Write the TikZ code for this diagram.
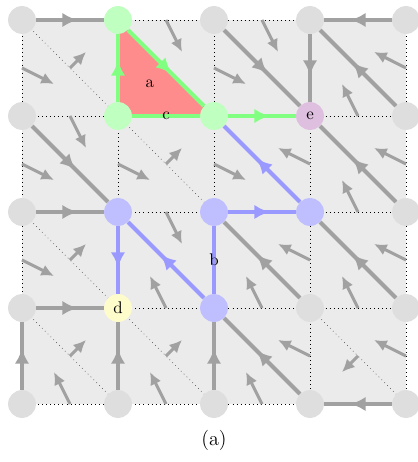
\documentclass[tikz,border=0pt]{standalone}
\usepackage{tikz}
\usepackage{xcolor}
\usetikzlibrary{arrows.meta,decorations.markings,backgrounds}
\definecolor{lgray}{gray}{0.63}
\definecolor{vgray}{gray}{0.87}
\definecolor{cellbg}{gray}{0.92}
\colorlet{vgreen}{green!25}
\colorlet{lgreen}{green!50}
\colorlet{vblue}{blue!25}
\colorlet{lblue}{blue!40}

\begin{document}
\begin{tikzpicture}[x=2cm,y=-2cm,
    vert/.style={circle,inner sep=0pt,minimum size=0.58cm,font=\normalsize},
    pair/.style={line width=2.4pt,postaction={decorate},
                 decoration={markings,mark=at position .5 with
                 {\arrow[xshift=4.5pt]{Latex[length=9pt,width=8.5pt]}}}},
    plain/.style={line width=2.4pt},
    flow/.style={line width=1.8pt,lgray,-{Latex[length=7.5pt,width=7pt]}},
    dots/.style={dotted,thin}]
    \useasboundingbox (-0.229,-0.208) rectangle (4.115,4.604);
    % vertices
    \foreach \i/\j/\c in {0/0/vgray,1/0/vgreen,2/0/vgray,3/0/vgray,4/0/vgray,
                          0/1/vgray,1/1/vgreen,2/1/vgreen,4/1/vgray,
                          0/2/vgray,1/2/vblue,2/2/vblue,3/2/vblue,4/2/vgray,
                          0/3/vgray,2/3/vblue,3/3/vgray,4/3/vgray,
                          0/4/vgray,1/4/vgray,2/4/vgray,3/4/vgray,4/4/vgray}
      \node[vert,fill=\c] (v-\i-\j) at (\i,\j) {};
    \node[vert,fill=yellow!20] (v-1-3) at (1,3) {d};
    \node[vert,fill=violet!25] (v-3-1) at (3,1) {e};
    \node[font=\large] (cap) at (2,4.375) {(a)};

    \begin{scope}[on background layer]
    \fill[cellbg] (v-0-0.center) rectangle (v-4-4.center);
    \fill[red!45] (v-1-0.center) -- (v-1-1.center) -- (v-2-1.center) -- cycle;
    \foreach \k in {0,...,4} {
      \draw[dots] (v-0-\k.center) -- (v-4-\k.center);
      \draw[dots] (v-\k-0.center) -- (v-\k-4.center);
    }
    \foreach \i in {0,...,3}
      \foreach \j in {0,...,3}
        \draw[dots,black!75] (\i,\j) -- ({\i+1},{\j+1});
    % vertex-edge pairs
    \foreach \a/\b in {0-0/1-0,4-0/3-0,3-0/3-1,2-0/3-1,4-1/3-0,0-1/1-2,
                       4-2/3-1,0-2/1-2,4-3/3-2,3-3/2-2,0-3/1-3,3-4/2-3,
                       0-4/0-3,1-4/1-3,2-4/2-3,4-4/3-4}
      \draw[pair,lgray] (v-\a) -- (v-\b);
    \foreach \a/\b in {1-1/1-0,1-0/2-1,2-1/3-1}
      \draw[pair,lgreen] (v-\a) -- (v-\b);
    \draw[plain,lgreen] (v-1-1) -- (v-2-1);
    \foreach \a/\b in {2-2/3-2,3-2/2-1,1-2/1-3,2-3/1-2}
      \draw[pair,lblue] (v-\a) -- (v-\b);
    \draw[plain,lblue] (v-2-2) -- (v-2-3);
    \end{scope}

    \node (la) at (1.333,0.667) {a};
    \node (lc) at (1.5,1) {c};
    \node (lb) at (2,2.5) {b};

    % edge-triangle pairs
    \foreach \i/\j in {1/0,2/0,0/1,1/2}
      \draw[flow] ({\i+0.5},\j) -- ({\i+0.667},{\j+0.333});
    \foreach \i/\j in {3/0,2/1,3/1,2/2,3/2,2/3,3/3}
      \draw[flow] ({\i+1},{\j+0.5}) -- ({\i+0.667},{\j+0.333});
    \foreach \i/\j in {0/0,1/1,0/2,0/3,1/3}
      \draw[flow] ({\i+0.5},{\j+0.5}) -- ({\i+0.667},{\j+0.333});
    \foreach \i/\j in {0/0,2/0,0/1,1/1,2/1,0/2}
      \draw[flow] (\i,{\j+0.5}) -- ({\i+0.333},{\j+0.667});
    \foreach \i/\j in {3/0,3/1,1/2,2/2,3/2,0/3,1/3,2/3}
      \draw[flow] ({\i+0.5},{\j+1}) -- ({\i+0.333},{\j+0.667});
    \draw[flow] (3.5,3.5) -- (3.333,3.667);
  \end{tikzpicture}
\end{document}
